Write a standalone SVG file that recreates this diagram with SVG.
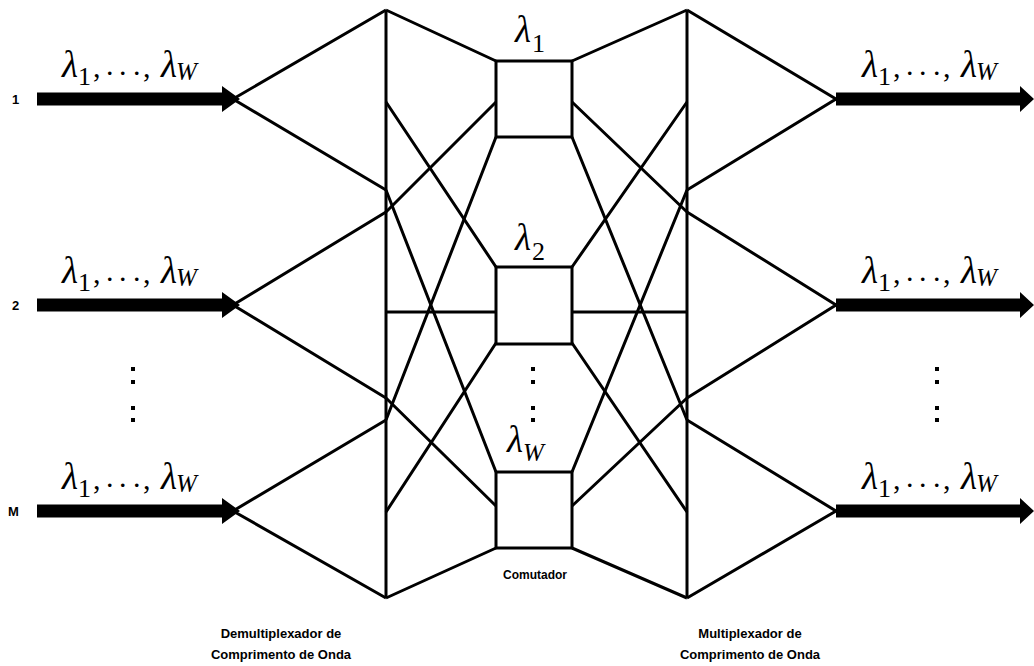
<svg xmlns="http://www.w3.org/2000/svg" width="1034" height="666" viewBox="0 0 1034 666">
  <style>
    .ln { stroke: #000; stroke-width: 3; fill: none; stroke-linejoin: miter; }
    .box { stroke: #000; stroke-width: 3; fill: #fff; }
    .arr { fill: #000; }
    .dot { fill: #000; }
    .lam { font-family: "Liberation Serif", "Times New Roman", serif; font-style: italic; font-size: 37px; }
    .sub { font-family: "Liberation Serif", "Times New Roman", serif; font-size: 26px; }
    .subi { font-family: "Liberation Serif", "Times New Roman", serif; font-style: italic; font-size: 25px; }
    .pun { font-family: "Liberation Serif", "Times New Roman", serif; font-size: 30px; }
    .lbl { font-family: "Liberation Sans", Arial, sans-serif; font-weight: bold; font-size: 13px; }
    .num { font-family: "Liberation Sans", Arial, sans-serif; font-weight: bold; font-size: 13px; }
  </style>
  <defs>
    <!-- wavelength set label "λ1, …, λW", origin at the first λ baseline -->
    <g id="lamset">
      <text class="lam" x="0" y="0">λ</text>
      <text class="sub" x="16" y="8">1</text>
      <text class="pun" x="31" y="0">,</text>
      <text class="pun" x="44 57 71" y="-2">...</text>
      <text class="pun" x="81" y="0">,</text>
      <text class="lam" x="99" y="0">λ</text>
      <text class="subi" x="114" y="3">W</text>
    </g>
    <!-- thick input/output arrow, centred on y = 0 -->
    <path id="arrowL" d="M37,-6.5 H222 V-13 L240,0 L222,13 V6.5 H37 Z"/>
    <path id="arrowR" d="M836,-6.5 H1020 V-13 L1034,0 L1020,13 V6.5 H836 Z"/>
  </defs>

  <!-- input fibres -->
  <g id="inputs">
    <use href="#arrowL" class="arr" y="99"/>
    <use href="#arrowL" class="arr" y="305"/>
    <use href="#arrowL" class="arr" y="511"/>
    <use href="#lamset" x="62" y="77"/>
    <use href="#lamset" x="62" y="283"/>
    <use href="#lamset" x="62" y="489"/>
    <text class="num" x="12" y="104">1</text>
    <text class="num" x="12" y="310">2</text>
    <text class="num" x="8" y="516">M</text>
    <rect class="dot" x="131" y="367" width="4" height="4"/>
    <rect class="dot" x="131" y="380" width="4" height="4"/>
    <rect class="dot" x="131" y="406" width="4" height="4"/>
    <rect class="dot" x="131" y="418" width="4" height="4"/>
  </g>

  <!-- wavelength demultiplexers -->
  <g id="demux">
    <path class="ln" d="M386,10 V598"/>
    <g id="demux-1"><path class="ln" d="M386,10 L233,99 L386,190"/></g>
    <g id="demux-2"><path class="ln" d="M386,212 L233,305 L386,398"/></g>
    <g id="demux-m"><path class="ln" d="M386,420 L233,511 L386,598"/></g>
    <text class="lbl" x="281" y="638" text-anchor="middle">Demultiplexador de</text>
    <text class="lbl" x="281" y="659" text-anchor="middle">Comprimento de Onda</text>
  </g>

  <!-- connectors between (de)multiplexers and the per-wavelength switches -->
  <g id="connectors">
    <path class="ln" d="M386,10 L496,61 M386,212 L496,102 M386,420 L496,137"/>
    <path class="ln" d="M386,102 L496,267 M386,312 L496,312 M386,512 L496,343"/>
    <path class="ln" d="M386,190 L496,472 M386,398 L496,506 M386,598 L496,548"/>
    <path class="ln" d="M572,61 L687,10 M572,102 L687,212 M572,137 L687,420"/>
    <path class="ln" d="M572,267 L687,102 M572,312 L687,312 M572,343 L687,512"/>
    <path class="ln" d="M572,472 L687,190 M572,506 L687,398 M572,548 L687,598"/>
  </g>

  <!-- switch fabric: one switch per wavelength -->
  <g id="switch-l1">
    <rect class="box" x="496" y="61" width="76" height="76"/>
    <text class="lam" x="515" y="42">λ</text>
    <text class="sub" x="532" y="52">1</text>
  </g>
  <g id="switch-l2">
    <rect class="box" x="496" y="267" width="76" height="77"/>
    <text class="lam" x="515" y="250">λ</text>
    <text class="sub" x="532" y="260">2</text>
  </g>
  <g id="switch-lw">
    <rect class="box" x="496" y="472" width="76" height="76"/>
    <text class="lam" x="507" y="452">λ</text>
    <text class="subi" x="523" y="461">W</text>
  </g>
  <g id="switch-dots">
    <rect class="dot" x="531" y="367" width="4" height="4"/>
    <rect class="dot" x="531" y="380" width="4" height="4"/>
    <rect class="dot" x="531" y="406" width="4" height="4"/>
    <rect class="dot" x="531" y="418" width="4" height="4"/>
  </g>
  <text class="lbl" x="535" y="579" text-anchor="middle" style="font-size:12px">Comutador</text>

  <!-- wavelength multiplexers -->
  <g id="mux">
    <path class="ln" d="M687,10 V598"/>
    <g id="mux-1"><path class="ln" d="M687,10 L836,99 L687,190"/></g>
    <g id="mux-2"><path class="ln" d="M687,212 L836,305 L687,398"/></g>
    <g id="mux-m"><path class="ln" d="M687,420 L836,511 L687,598"/></g>
    <text class="lbl" x="750" y="638" text-anchor="middle">Multiplexador de</text>
    <text class="lbl" x="750" y="659" text-anchor="middle">Comprimento de Onda</text>
  </g>

  <!-- output fibres -->
  <g id="outputs">
    <use href="#arrowR" class="arr" y="99"/>
    <use href="#arrowR" class="arr" y="305"/>
    <use href="#arrowR" class="arr" y="511"/>
    <use href="#lamset" x="862" y="77"/>
    <use href="#lamset" x="862" y="283"/>
    <use href="#lamset" x="862" y="489"/>
    <rect class="dot" x="935" y="367" width="4" height="4"/>
    <rect class="dot" x="935" y="380" width="4" height="4"/>
    <rect class="dot" x="935" y="406" width="4" height="4"/>
    <rect class="dot" x="935" y="418" width="4" height="4"/>
  </g>
</svg>
